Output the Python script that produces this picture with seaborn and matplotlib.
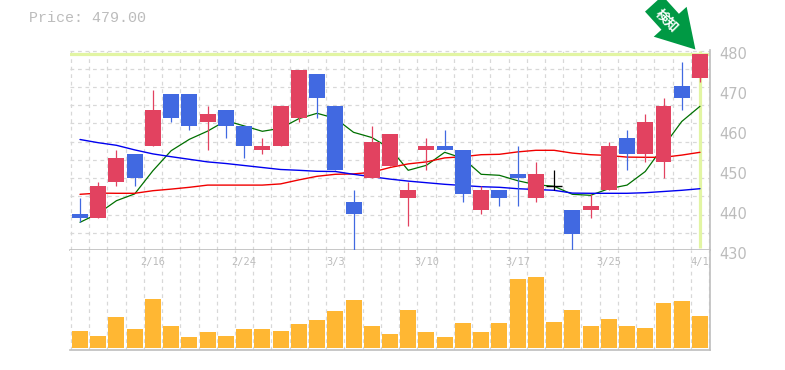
import pandas as pd
import seaborn as sns
import matplotlib
matplotlib.use("Agg")
import matplotlib.pyplot as plt
from matplotlib.transforms import ScaledTranslation

# candles: body top / body bottom / wick high / wick low
body_top = [439, 446, 453, 454, 465, 469, 469, 464, 465, 461, 456, 466, 475, 474, 466, 442, 457, 459,
            445, 456, 456, 455, 445, 445, 449, 449, 446, 440, 441, 456, 458, 462, 466, 471, 479]
body_bot = [438, 438, 447, 448, 456, 463, 461, 462, 461, 456, 455, 456, 463, 468, 450, 439, 448, 451,
            443, 455, 455, 444, 440, 443, 448, 443, 446, 434, 440, 445, 454, 454, 452, 468, 473]
wick_hi = [443, 447, 455, 454, 470, 469, 469, 466, 465, 461, 458, 466, 475, 474, 466, 445, 461, 459,
           447, 458, 460, 455, 446, 445, 456, 452, 450, 440, 444, 457, 460, 464, 468, 477, 479]
wick_lo = [437, 438, 446, 446, 456, 462, 460, 455, 458, 453, 454, 456, 462, 463, 450, 430, 448, 451,
           436, 450, 455, 442, 439, 441, 441, 442, 445, 430, 438, 445, 450, 452, 448, 465, 472]
# u = red (up), d = blue (down), k = black doji
candle_kind = ["d", "u", "u", "d", "u", "d", "d", "u", "d", "d", "u", "u", "u", "d", "d", "d", "u", "u",
               "u", "u", "d", "d", "u", "d", "d", "u", "k", "d", "u", "u", "d", "u", "u", "d", "u"]

ma_green = [437, 439.2, 442.4, 444.1, 449.9, 454.9, 457.75, 459.8, 462.4, 461.1, 459.75, 460.5, 462.9, 464.25,
            463, 459.5, 458.2, 455.5, 450, 451.25, 454.5, 453, 449, 448.75, 447.4, 446.4, 446, 444, 443.75,
            445.4, 446.3, 449.7, 456, 462.2, 466]
ma_red = [444, 444.3, 444.25, 444.25, 444.9, 445.3, 445.75, 446.3, 446.3, 446.3, 446.3, 446.6, 447.6, 448.5,
          449, 449.1, 449.5, 450.7, 451.6, 452.1, 453.1, 453.4, 453.9, 454, 454.6, 455, 455, 454.3, 453.9,
          453.7, 453.3, 453.25, 453.25, 453.8, 454.5]
ma_blue = [457.7, 456.9, 456.25, 455.1, 454.1, 453.4, 452.75, 452.1, 451.7, 451.2, 450.7, 450.2, 450, 449.75,
           449.7, 449, 448.4, 447.8, 447.3, 446.9, 446.5, 446.2, 445.9, 445.75, 445.4, 445.2, 445, 444.3,
           444.25, 444.25, 444.25, 444.4, 444.7, 445, 445.4]
volume = [50, 35, 92, 56, 146, 65, 32, 47, 35, 56, 56, 50, 71, 83, 110, 143, 65, 41,
          113, 47, 32, 74, 47, 74, 206, 212, 77, 113, 65, 86, 65, 59, 134, 140, 95]

date_pos = [4, 9, 14, 19, 24, 29, 34]
date_labels = ["2/16", "2/24", "3/3", "3/10", "3/17", "3/25", "4/1"]
price_ticks = [480, 470, 460, 450, 440, 430]
grid_prices = [479.8, 475.4, 470.9, 466.4, 461.9, 457.2, 452.7, 448.2, 443.7, 438.9, 434.4]
last_price = 479

RED = "#E24260"
BLUE = "#4169E1"
GRID = "#D8D8D8"
AXIS = "#BEBEBE"
TEXT = "#BCBCBC"
HILITE = "#E2F5A3"

sns.set_style("white")
plt.rcParams["font.family"] = ["DejaVu Sans"]

W, H = 785, 370
fig = plt.figure(figsize=(W / 100, H / 100), dpi=100)
ax = fig.add_axes([70 / W, 1 - 250.3 / H, 640 / W, 200 / H])
vax = fig.add_axes([70 / W, 1 - 350 / H, 640 / W, 99.7 / H])

idx = list(range(len(volume)))
df = pd.DataFrame({"i": idx, "green": ma_green, "red": ma_red, "blue": ma_blue, "volume": volume})
grid_x = [i - 0.5 for i in range(len(volume) + 1)]

# price panel
for a in (ax, vax):
    for gx in grid_x:
        a.axvline(gx, color=GRID, lw=0.9, dashes=(3, 3), zorder=0)
for gy in grid_prices:
    ax.axhline(gy, color=GRID, lw=0.9, dashes=(3, 3), zorder=0)

ax.axhline(last_price, color=HILITE, lw=2.3, zorder=1)
ax.vlines(idx[-1], 430.6, 479.8, color=HILITE, lw=2.3, zorder=1)

sns.lineplot(data=df, x="i", y="green", color="#007000", lw=0.9, ax=ax, zorder=2)
sns.lineplot(data=df, x="i", y="red", color="#F00000", lw=1.0, ax=ax, zorder=2)
sns.lineplot(data=df, x="i", y="blue", color="#0000F0", lw=1.0, ax=ax, zorder=2)

colors = {"u": RED, "d": BLUE, "k": "black"}
for i, kind in enumerate(candle_kind):
    c = colors[kind]
    ax.vlines(i, wick_lo[i], wick_hi[i], color=c, lw=0.9, zorder=3)
    if kind == "k":
        ax.hlines(body_top[i], i - 0.44, i + 0.44, color=c, lw=1.0, zorder=3)
    else:
        ax.bar(i, body_top[i] - body_bot[i], bottom=body_bot[i], width=0.877, color=c, lw=0, zorder=4)

ax.set_xlim(-0.548, 34.55)
ax.set_ylim(430, 480)
ax.set_xticks([])
ax.set_xlabel("")
ax.set_ylabel("")
ax.yaxis.tick_right()
ax.set_yticks(price_ticks)
ax.set_yticklabels([str(p) for p in price_ticks], color=TEXT, fontsize=10.5, va="center")
ax.tick_params(axis="y", length=0, pad=7)
# the tick labels sit a little under their price
for lab in ax.get_yticklabels():
    lab.set_transform(lab.get_transform() + ScaledTranslation(0, -3 / 72, fig.dpi_scale_trans))

# volume panel
sns.barplot(data=df, x="i", y="volume", native_scale=True, color="#FFB733", saturation=1, width=0.877, ax=vax, zorder=3, linewidth=0)
vax.set_xlim(-0.548, 34.55)
vax.set_ylim(-7, 292)
vax.set_yticks([])
vax.set_xticks([])
vax.set_xlabel("")
vax.set_ylabel("")
for p, lab in zip(date_pos, date_labels):
    vax.text(p, 0.885, lab, transform=vax.get_xaxis_transform(), ha="center", va="center",
             color=TEXT, fontsize=7.5, family="DejaVu Sans Mono")

for a in (ax, vax):
    for s in ("left", "top"):
        a.spines[s].set_visible(False)
    for s in ("right", "bottom"):
        a.spines[s].set_color(AXIS)
        a.spines[s].set_linewidth(1.2)

fig.text(29 / W, 1 - 18 / H, "Price: 479.00", color=TEXT, fontsize=10.8, family="Liberation Mono",
         ha="left", va="center")

# the green marker pointing at the last candle
ax.annotate("", xy=(33.75, 480.2), xytext=(-30, 33), textcoords="offset points", annotation_clip=False,
            arrowprops=dict(arrowstyle="simple,head_length=2.7,head_width=3.2,tail_width=1.7",
                            mutation_scale=10, color="#009944", lw=0, shrinkA=0, shrinkB=0))
fig.text(667 / W, 1 - 21 / H, "検知", color="white", fontsize=9.5, fontweight="bold", rotation=-45,
         family=["Noto Sans CJK JP", "DejaVu Sans"], ha="center", va="center", rotation_mode="anchor")

fig.savefig("out.png", dpi=100)
